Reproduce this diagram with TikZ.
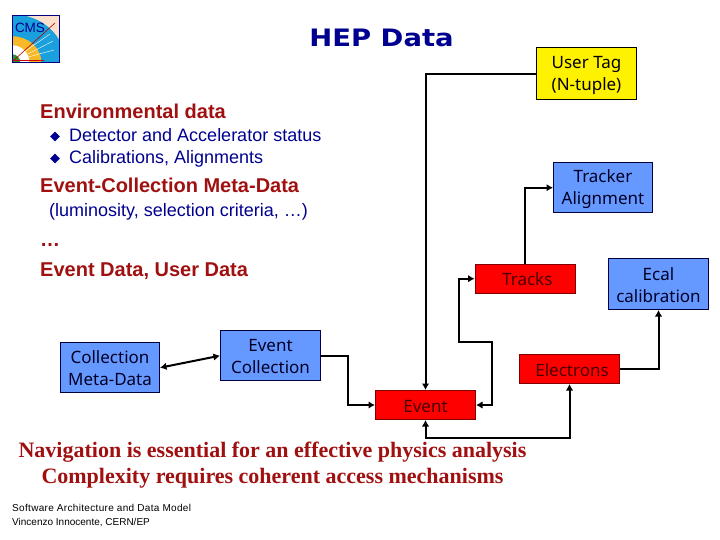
\documentclass[tikz,border=0pt]{standalone}
\usepackage{fontspec}
\setmainfont{Liberation Sans}
\newfontfamily\boxfont{Noto Sans}
\newfontfamily\titlefont[FakeStretch=1.144]{DejaVu Sans}
\newfontfamily\serifbold{Liberation Serif}
\newfontfamily\footfont[LetterSpace=3.2]{Liberation Sans}
\usetikzlibrary{arrows.meta,shapes.geometric}
\definecolor{hepred}{HTML}{A01010}
\definecolor{hepnavy}{HTML}{000090}
\definecolor{boxblue}{HTML}{6699FF}
\definecolor{logoblue}{HTML}{1AA0DC}
\definecolor{logopeach}{HTML}{FCE0CC}
\definecolor{logoyellow}{HTML}{F8B828}
\definecolor{redtext}{HTML}{4A0000}
\newcommand{\bs}{\rule[-1pt]{0pt}{16pt}}
\tikzset{
 x=1pt,y=-1pt,
 anybox/.style={draw,line width=1pt,inner sep=0pt,align=center,font=\boxfont\fontsize{17}{22}\selectfont},
 bluebox/.style={anybox,fill=boxblue,draw=black!60!blue!60!black,text=black!85!blue},
 redbox/.style={anybox,fill=red,draw=red!50!black,text=redtext},
 yellowbox/.style={anybox,fill=yellow,draw=black,text=black},
 wire/.style={draw=black,line width=2pt},
 tip/.style={-{Latex[length=6.5pt,width=7.5pt]}},
 bothtip/.style={{Latex[length=6.5pt,width=7.5pt]}-{Latex[length=6.5pt,width=7.5pt]}},
 headline/.style={anchor=base west,inner sep=0pt,text=hepred,font=\bfseries\fontsize{20}{24}\selectfont},
 subline/.style={anchor=base west,inner sep=0pt,text=hepnavy,font=\fontsize{18}{20}\selectfont},
 bullet/.style={diamond,fill=hepnavy,inner sep=0pt,minimum width=10pt,minimum height=10pt},
 closing/.style={anchor=base,inner sep=0pt,text=hepred,font=\serifbold\bfseries\fontsize{22}{24}\selectfont},
 footer/.style={anchor=base west,inner sep=0pt,text=black,font=\fontsize{10}{11}\selectfont},
}
\begin{document}
\begin{tikzpicture}
\useasboundingbox (0,0) rectangle (720,540);
% logo
\begin{scope}
\clip (12.3,15.3) rectangle (59.7,62.3);
\fill[logopeach] (12.3,15.3) rectangle (59.7,62.3);
\fill[logoblue] (12.3,62.3) ellipse[x radius=53,y radius=48];
\fill[logoyellow] (12.3,62.3) ellipse[x radius=29,y radius=26];
\fill[white] (12.3,62.3) circle[radius=17];
\fill[green!45!black!80] (12.3,62.3) circle[radius=8];
\draw[red!70!black,line width=.6pt] (13,61) -- (55,23);
\draw[white,line width=.4pt] (24,52) -- (50,34) (26,55) -- (53,41) (28,57) -- (54,50);
\draw[red!80!black,line width=.6pt] (14,60) -- (44,60);
\node[inner sep=0pt,text=blue!55!black,font=\fontsize{13.5}{15}\selectfont] (logotext) at (30,28) {CMS};
\end{scope}
\draw[blue!50!black,line width=1pt] (12.3,15.3) rectangle (59.7,62.3);
% title
\node[anchor=base,inner sep=0pt,text=hepnavy,font=\titlefont\bfseries\fontsize{24}{28}\selectfont] (title) at (381.5,46.7) {HEP Data};
% left text
\node[headline] (env) at (40,119) {Environmental data};
\node[bullet] (b1) at (55,136.5) {};
\node[subline] (det) at (69,141.7) {Detector and Accelerator status};
\node[bullet] (b2) at (55,158.5) {};
\node[subline] (cal) at (69,163.5) {Calibrations, Alignments};
\node[headline] (ecmd) at (40,192.5) {Event-Collection Meta-Data};
\node[subline] (lum) at (49,216.5) {(luminosity, selection criteria, …)};
\node[headline] (dots) at (40,246) {…};
\node[headline] (evd) at (40,276) {Event Data, User Data};
% boxes
\node[yellowbox,minimum width=100pt,minimum height=51.5pt] (usertag) at (586.5,73.7) {\bs User Tag\\\bs (N-tuple)};
\node[bluebox,minimum width=99pt,minimum height=50.5pt] (tracker) at (603,187.7) {\bs Tracker\\\bs Alignment};
\node[redbox,minimum width=100.5pt,minimum height=29pt] (tracks) at (525.3,278.7) {\bs\hspace*{4pt}Tracks};
\node[bluebox,minimum width=100pt,minimum height=51pt] (ecal) at (658.5,284) {\bs Ecal\\\bs calibration};
\node[redbox,minimum width=100pt,minimum height=29pt] (electrons) at (569.5,369) {\bs\hspace*{5pt}Electrons};
\node[redbox,minimum width=100pt,minimum height=29pt] (event) at (425.5,405) {\bs Event};
\node[bluebox,minimum width=100pt,minimum height=50.5pt] (evcoll) at (270.5,355.7) {\bs Event\\\bs Collection};
\node[bluebox,minimum width=99pt,minimum height=50.5pt] (collmeta) at (110,367.7) {\bs Collection\\\bs Meta-Data};
% helper corners
\coordinate (trackcorner) at (459,341.7);
\coordinate (trackcorner2) at (491.7,341.7);
\coordinate (below) at (569.5,437.7);
\coordinate (belowev) at (425.5,437.7);
\coordinate (collcorner) at (347.7,355.7);
% connectors
\draw[wire,tip] (usertag.west) -| (event.north);
\draw[wire,tip] (tracks.north) |- (tracker.west);
\draw[wire,bothtip] (tracks.west) -| (trackcorner) -- (trackcorner2) |- (event.east);
\draw[wire,tip] (electrons.east) -| (ecal.south);
\draw[wire,bothtip] (event.south) -- (belowev) -- (below) -- (electrons.south);
\draw[wire,tip] (evcoll.east) -- (collcorner) |- (event.west);
\draw[wire,bothtip] (collmeta.east) -- (evcoll.west);
% closing
\node[closing] (nav) at (272.5,457) {Navigation is essential for an effective physics analysis};
\node[closing] (comp) at (272.5,483) {Complexity requires coherent access mechanisms};
\node[footer,font=\footfont\fontsize{10}{11}\selectfont] (f1) at (12,511) {Software Architecture and Data Model};
\node[footer] (f2) at (12,525) {Vincenzo Innocente, CERN/EP};
\end{tikzpicture}
\end{document}
